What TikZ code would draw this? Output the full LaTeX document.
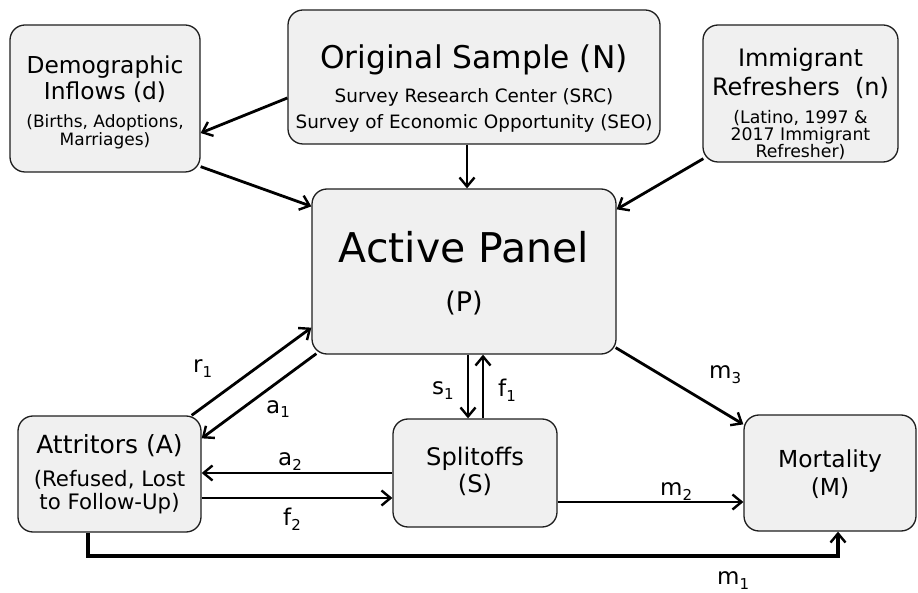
\documentclass[tikz,border=0pt]{standalone}
\usepackage{fontspec}
\setmainfont{DejaVu Sans}
\usetikzlibrary{arrows.meta}
\definecolor{boxfill}{RGB}{240,240,240}
\definecolor{boxline}{RGB}{30,30,30}
\newcommand\lbl[2]{#1\raisebox{-5pt}{\fontsize{15}{15}\selectfont #2}}
\newcommand\fs[2]{\fontsize{#1}{#2}\selectfont}
\begin{document}
\begin{tikzpicture}[x=1pt,y=-1pt,
  flowbox/.style={draw=boxline, line width=1.3pt, fill=boxfill, rounded corners=15pt, inner sep=0pt},
  txt/.style={align=center, inner sep=0pt, text=black},
  arr/.style={draw=black, line width=2.8pt, -{Straight Barb[length=9pt,width=15pt,line width=2.4pt]}},
  lab/.style={anchor=base west, inner sep=0pt, font=\fs{23}{23}}]
\useasboundingbox (0,0) rectangle (918,593);

% boxes
\node[flowbox, minimum width=190pt, minimum height=147pt] (dem) at (105,98.5) {};
\node[flowbox, minimum width=372pt, minimum height=134pt] (orig) at (474,77) {};
\node[flowbox, minimum width=195pt, minimum height=137pt] (imm) at (800.5,93.5) {};
\node[flowbox, minimum width=304pt, minimum height=165pt] (act) at (464,271.5) {};
\node[flowbox, minimum width=183pt, minimum height=116pt] (att) at (109.5,474) {};
\node[flowbox, minimum width=164pt, minimum height=108pt] (spl) at (475,473) {};
\node[flowbox, minimum width=172pt, minimum height=116pt] (mort) at (830,473) {};

% texts
\node[txt, font=\fs{23.3}{26}] (demT) at (105,78.75) {Demographic\\Inflows (d)};
\node[txt, font=\fs{17}{17.5}] (demS) at (105,131.9) {(Births, Adoptions,\\Marriages)};
\node[txt, font=\fs{31.3}{31}] (origT) at (474,59.6) {Original Sample (N)};
\node[txt, font=\fs{18.4}{26}] (origS) at (474,110) {Survey Research Center (SRC)\\Survey of Economic Opportunity (SEO)};
\node[txt, font=\fs{24}{29}] (immT) at (800.5,73) {Immigrant\\Refreshers\ \ (n)};
\node[txt, font=\fs{17.3}{17}] (immS) at (800.5,135.4) {(Latino, 1997 \&\\2017 Immigrant\\Refresher)};
\node[txt, font=\fs{41}{41}] (actT) at (464,246.8) {Active Panel};
\node[txt, font=\fs{27}{27}] (actS) at (464,303.5) {(P)};
\node[txt, font=\fs{25}{25}] (attT) at (109.5,445.5) {Attritors (A)};
\node[txt, font=\fs{21.3}{23}] (attS) at (109.5,492.2) {(Refused, Lost\\to Follow-Up)};
\node[txt, font=\fs{24.2}{27}] (splT) at (475,471) {Splitoffs\\(S)};
\node[txt, font=\fs{23.4}{28}] (mortT) at (830,473.75) {Mortality\\(M)};

% connectors
\draw[arr] ([yshift=-21pt]orig.west) -- ([yshift=-34.5pt]dem.east);
\draw[arr] ([yshift=6pt]dem.south east) -- ([yshift=-18pt]act.north west);
\draw[arr] ([xshift=-7pt]orig.south) -- ([xshift=-7pt]orig.south |- act.north);
\draw[arr] ([yshift=4pt,xshift=1pt]imm.south west) -- ([yshift=-21pt]act.north east);
\draw[arr] ([xshift=5pt,yshift=1pt]act.south west) -- ([yshift=-23pt]att.north east);
\draw[arr] ([xshift=-10pt]att.north east) -- ([yshift=27pt]act.south west);
\draw[arr] ([xshift=4pt]act.south) -- ([xshift=4pt]act.south |- spl.north);
\draw[arr] ([xshift=8pt]spl.north) -- ([xshift=8pt]spl.north |- act.south);
\draw[arr] ([yshift=7pt,xshift=-1pt]act.south east) -- ([yshift=-10pt]mort.north west);
\draw[arr] (spl.west) -- (spl.west -| att.east);
\draw[arr] ([yshift=-24pt]att.east) -- ([yshift=-24pt]att.east -| spl.west);
\draw[arr] ([yshift=-29pt]spl.east) -- ([yshift=-29pt]spl.east -| mort.west);
\draw[arr, line width=3.8pt] ([xshift=-21.5pt]att.south) -- ++(0,23) -| ([xshift=8pt]mort.south);

% labels
\node[lab] (lr1) at (193,373) {\lbl{r}{1}};
\node[lab] (la1) at (266,413) {\lbl{a}{1}};
\node[lab] (ls1) at (432,395) {\lbl{s}{1}};
\node[lab] (lf1) at (498,396) {\lbl{f}{1}};
\node[lab] (la2) at (278,465) {\lbl{a}{2}};
\node[lab] (lf2) at (283,525) {\lbl{f}{2}};
\node[lab] (lm3) at (709,378) {\lbl{m}{3}};
\node[lab] (lm2) at (660,495) {\lbl{m}{2}};
\node[lab] (lm1) at (717,584) {\lbl{m}{1}};
\end{tikzpicture}
\end{document}
